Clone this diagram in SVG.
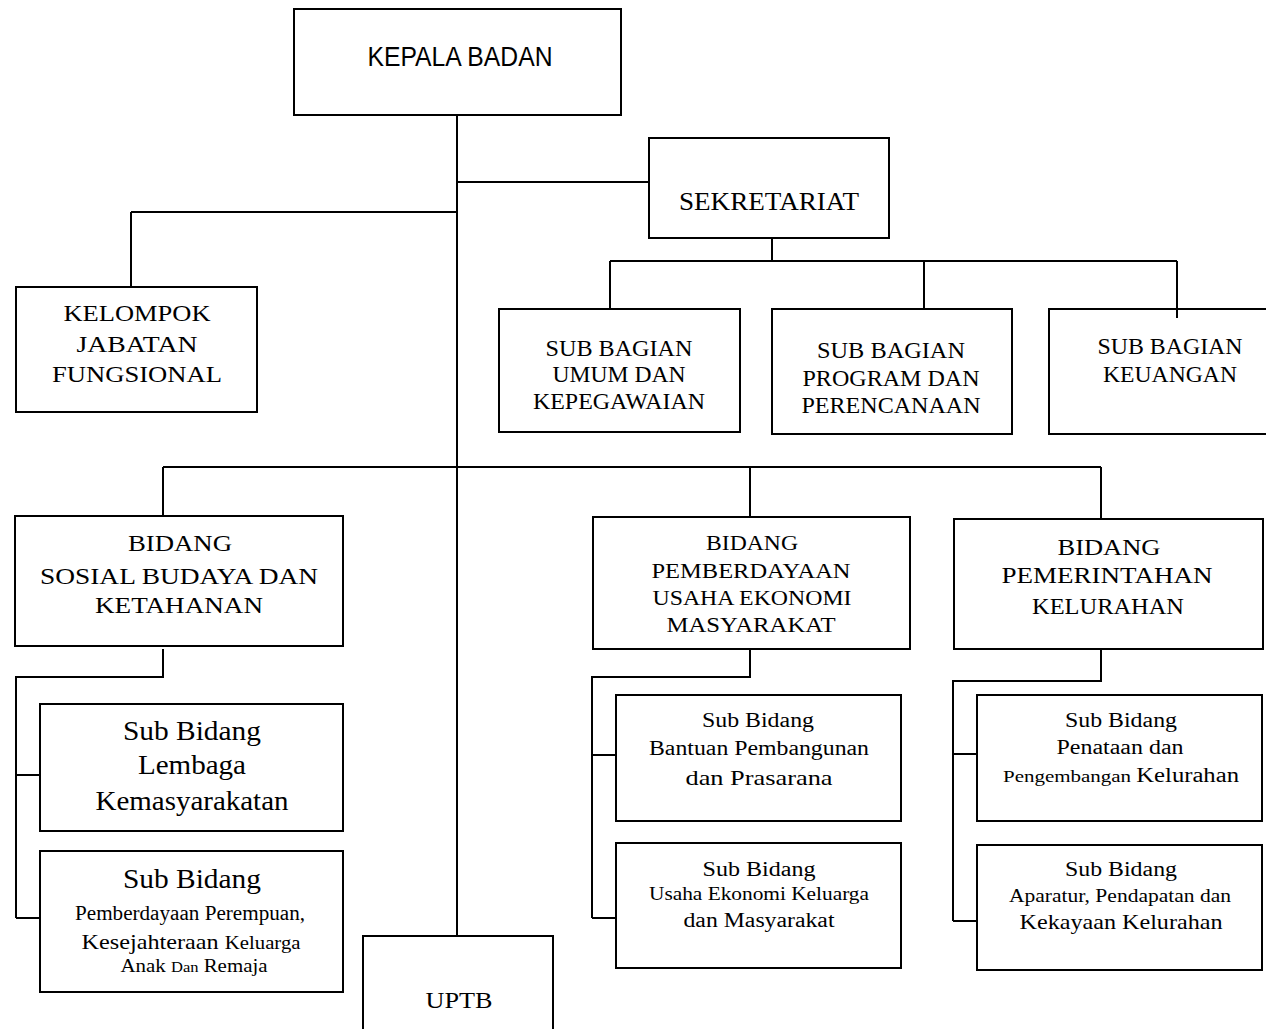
<svg xmlns="http://www.w3.org/2000/svg" width="1266" height="1029" viewBox="0 0 1266 1029">
<style>
rect.box{fill:#fff;stroke:#000;stroke-width:2}
.c path{fill:none;stroke:#000;stroke-width:2}
text{font-family:"Liberation Serif","Times New Roman",serif;fill:#000;text-anchor:middle}
text.sans{font-family:"Liberation Sans",Arial,sans-serif}
</style>
<rect x="0" y="0" width="1266" height="1029" fill="#fff"/>
<g id="kepala">
<rect class="box" x="294" y="9" width="327" height="106"/>
<text class="sans" x="460" y="66" font-size="27" textLength="185" lengthAdjust="spacingAndGlyphs">KEPALA BADAN</text>
</g>
<g id="sekretariat">
<rect class="box" x="649" y="138" width="240" height="100"/>
<text x="769" y="210" font-size="25" textLength="180" lengthAdjust="spacingAndGlyphs">SEKRETARIAT</text>
</g>
<g id="kelompok">
<rect class="box" x="16" y="287" width="241" height="125"/>
<text x="137" y="321" font-size="24" textLength="147" lengthAdjust="spacingAndGlyphs">KELOMPOK</text>
<text x="137" y="352" font-size="24" textLength="121" lengthAdjust="spacingAndGlyphs">JABATAN</text>
<text x="137" y="382" font-size="24" textLength="170" lengthAdjust="spacingAndGlyphs">FUNGSIONAL</text>
</g>
<g id="subbag-umum">
<rect class="box" x="499" y="309" width="241" height="123"/>
<text x="619" y="356" font-size="24" textLength="147" lengthAdjust="spacingAndGlyphs">SUB BAGIAN</text>
<text x="619" y="382" font-size="24" textLength="133" lengthAdjust="spacingAndGlyphs">UMUM DAN</text>
<text x="619" y="409" font-size="24" textLength="172" lengthAdjust="spacingAndGlyphs">KEPEGAWAIAN</text>
</g>
<g id="subbag-program">
<rect class="box" x="772" y="309" width="240" height="125"/>
<text x="891" y="358" font-size="24" textLength="148" lengthAdjust="spacingAndGlyphs">SUB BAGIAN</text>
<text x="891" y="386" font-size="24" textLength="177" lengthAdjust="spacingAndGlyphs">PROGRAM DAN</text>
<text x="891" y="413" font-size="24" textLength="179" lengthAdjust="spacingAndGlyphs">PERENCANAAN</text>
</g>
<g id="subbag-keuangan">
<rect class="box" x="1049" y="309" width="260" height="125"/>
<text x="1170" y="354" font-size="24" textLength="145" lengthAdjust="spacingAndGlyphs">SUB BAGIAN</text>
<text x="1170" y="382" font-size="24" textLength="134" lengthAdjust="spacingAndGlyphs">KEUANGAN</text>
</g>
<g id="bidang-sosial">
<rect class="box" x="15" y="516" width="328" height="130"/>
<text x="180" y="551" font-size="24" textLength="104" lengthAdjust="spacingAndGlyphs">BIDANG</text>
<text x="179" y="584" font-size="24" textLength="278" lengthAdjust="spacingAndGlyphs">SOSIAL BUDAYA DAN</text>
<text x="179" y="613" font-size="24" textLength="168" lengthAdjust="spacingAndGlyphs">KETAHANAN</text>
</g>
<g id="bidang-pemberdayaan">
<rect class="box" x="593" y="517" width="317" height="132"/>
<text x="752" y="550" font-size="22" textLength="92" lengthAdjust="spacingAndGlyphs">BIDANG</text>
<text x="751" y="578" font-size="22" textLength="199" lengthAdjust="spacingAndGlyphs">PEMBERDAYAAN</text>
<text x="752" y="605" font-size="22" textLength="199" lengthAdjust="spacingAndGlyphs">USAHA EKONOMI</text>
<text x="751" y="632" font-size="22" textLength="169" lengthAdjust="spacingAndGlyphs">MASYARAKAT</text>
</g>
<g id="bidang-pemerintahan">
<rect class="box" x="954" y="519" width="309" height="130"/>
<text x="1109" y="555" font-size="24" textLength="103" lengthAdjust="spacingAndGlyphs">BIDANG</text>
<text x="1107" y="583" font-size="24" textLength="211" lengthAdjust="spacingAndGlyphs">PEMERINTAHAN</text>
<text x="1108" y="614" font-size="24" textLength="152" lengthAdjust="spacingAndGlyphs">KELURAHAN</text>
</g>
<g id="sub-lembaga">
<rect class="box" x="40" y="704" width="303" height="127"/>
<text x="192" y="740" font-size="28" textLength="138" lengthAdjust="spacingAndGlyphs">Sub Bidang</text>
<text x="192" y="774" font-size="28" textLength="108" lengthAdjust="spacingAndGlyphs">Lembaga</text>
<text x="192" y="810" font-size="28" textLength="193" lengthAdjust="spacingAndGlyphs">Kemasyarakatan</text>
</g>
<g id="sub-pemberdayaan-perempuan">
<rect class="box" x="40" y="851" width="303" height="141"/>
<text x="192" y="888" font-size="28" textLength="138" lengthAdjust="spacingAndGlyphs">Sub Bidang</text>
<text x="190" y="920" font-size="20" textLength="230" lengthAdjust="spacingAndGlyphs">Pemberdayaan Perempuan,</text>
<text x="191" y="949" font-size="21" textLength="219" lengthAdjust="spacingAndGlyphs">Kesejahteraan <tspan font-size="18">Keluarga</tspan></text>
<text x="194" y="972" font-size="19" textLength="147" lengthAdjust="spacingAndGlyphs">Anak <tspan font-size="15">Dan</tspan> Remaja</text>
</g>
<g id="uptb">
<rect class="box" x="363" y="936" width="190" height="120"/>
<text x="459" y="1008" font-size="23" textLength="67" lengthAdjust="spacingAndGlyphs">UPTB</text>
</g>
<g id="sub-bantuan">
<rect class="box" x="616" y="695" width="285" height="126"/>
<text x="758" y="727" font-size="20" textLength="112" lengthAdjust="spacingAndGlyphs">Sub Bidang</text>
<text x="759" y="755" font-size="20" textLength="220" lengthAdjust="spacingAndGlyphs">Bantuan Pembangunan</text>
<text x="759" y="785" font-size="22" textLength="147" lengthAdjust="spacingAndGlyphs">dan Prasarana</text>
</g>
<g id="sub-usaha">
<rect class="box" x="616" y="843" width="285" height="125"/>
<text x="759" y="876" font-size="20" textLength="113" lengthAdjust="spacingAndGlyphs">Sub Bidang</text>
<text x="759" y="900" font-size="18" textLength="220" lengthAdjust="spacingAndGlyphs">Usaha Ekonomi Keluarga</text>
<text x="759" y="927" font-size="20" textLength="151" lengthAdjust="spacingAndGlyphs">dan Masyarakat</text>
</g>
<g id="sub-penataan">
<rect class="box" x="977" y="695" width="285" height="126"/>
<text x="1121" y="727" font-size="20" textLength="112" lengthAdjust="spacingAndGlyphs">Sub Bidang</text>
<text x="1120" y="754" font-size="20" textLength="127" lengthAdjust="spacingAndGlyphs">Penataan dan</text>
<text x="1121" y="782" font-size="17" textLength="236" lengthAdjust="spacingAndGlyphs">Pengembangan <tspan font-size="20">Kelurahan</tspan></text>
</g>
<g id="sub-aparatur">
<rect class="box" x="977" y="845" width="285" height="125"/>
<text x="1121" y="876" font-size="20" textLength="112" lengthAdjust="spacingAndGlyphs">Sub Bidang</text>
<text x="1120" y="902" font-size="18" textLength="222" lengthAdjust="spacingAndGlyphs">Aparatur, Pendapatan dan</text>
<text x="1121" y="929" font-size="21" textLength="203" lengthAdjust="spacingAndGlyphs">Kekayaan Kelurahan</text>
</g>
<g class="c" id="connectors">
<path d="M457 115 V935"/>
<path d="M457 182 H649"/>
<path d="M131 212 H457 M131 212 V287"/>
<path d="M772 238 V261 M610 261 H1177 M610 261 V309 M924 261 V309 M1177 261 V318"/>
<path d="M163 467 H1101 M163 467 V516 M750 467 V517 M1101 467 V519"/>
<path d="M163 649 V677 H16 V918 M16 775 H40 M16 918 H40"/>
<path d="M750 649 V677 H592 V918 M592 755 H616 M592 918 H616"/>
<path d="M1101 649 V681 H953 V921 M953 754 H977 M953 921 H977"/>
</g>
</svg>
